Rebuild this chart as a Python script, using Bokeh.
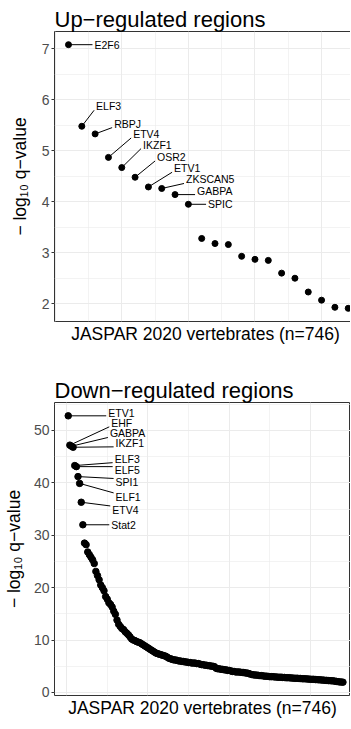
import numpy as np
from bokeh.plotting import figure
from bokeh.layouts import column
from bokeh.models import Range1d, FixedTicker
from bokeh.embed import file_html
from bokeh.resources import INLINE
from bokeh.core.properties import value

FONT = "Liberation Sans"

# ---------------- data ----------------
up_values = [7.08, 5.48, 5.33, 4.87, 4.67, 4.48, 4.29, 4.26, 4.14, 3.95,
             3.28, 3.18, 3.16, 2.93, 2.87, 2.85, 2.60, 2.50, 2.23, 2.07,
             1.93, 1.91]
up_labels = ["E2F6", "ELF3", "RBPJ", "ETV4", "IKZF1", "OSR2", "ETV1",
             "ZKSCAN5", "GABPA", "SPIC"]

down_values = [
    52.8, 47.2, 47.0, 46.8, 43.3, 43.1, 41.2, 39.9, 36.3, 32.0,
    28.5, 28.2, 26.8, 26.3, 25.8, 25.3, 24.6, 23.1, 22.3, 21.5,
    20.5, 20.0, 19.4, 18.3, 17.8, 17.1, 16.8, 16.3, 15.5, 14.9,
    13.8, 13.0, 12.6, 12.2, 12.0, 11.6, 11.3, 11.0, 10.6, 10.2,
    10.0, 9.9, 9.7, 9.6, 9.5, 9.3, 9.1, 8.9, 8.7, 8.5,
    8.3, 8.1, 7.9, 7.7, 7.5, 7.4, 7.3, 7.2, 7.1, 7.0,
    6.9, 6.7, 6.5, 6.4, 6.3, 6.2, 6.2, 6.1, 6.0, 6.0,
    5.9, 5.9, 5.8, 5.8, 5.7, 5.7, 5.6, 5.6, 5.6, 5.5,
    5.5, 5.4, 5.3, 5.3, 5.2, 5.2, 5.1, 5.1, 5.0, 5.0,
    4.9, 4.6, 4.5, 4.5, 4.4, 4.4, 4.3, 4.3, 4.2, 4.2,
    4.1, 4.0, 4.0, 3.9, 3.9, 3.9, 3.85, 3.8, 3.8, 3.7,
    3.7, 3.6, 3.5, 3.4, 3.35, 3.3, 3.3, 3.25, 3.2, 3.2,
    3.15, 3.1, 3.1, 3.05, 3.0, 3.0, 3.0, 2.95, 2.95, 2.9,
    2.9, 2.9, 2.85, 2.85, 2.8, 2.8, 2.8, 2.75, 2.75, 2.7,
    2.7, 2.7, 2.65, 2.65, 2.6, 2.6, 2.6, 2.55, 2.55, 2.5,
    2.5, 2.5, 2.45, 2.45, 2.4, 2.4, 2.35, 2.35, 2.3, 2.3,
    2.25, 2.25, 2.2, 2.2, 2.15, 2.1, 2.05, 2.0, 1.98, 1.95,
]
down_labels = ["ETV1", "EHF", "GABPA", "IKZF1", "ELF3", "ELF5", "SPI1",
               "ELF1", "ETV4", "Stat2"]

up_ticks = [2, 3, 4, 5, 6, 7]
down_ticks = [0, 10, 20, 30, 40, 50]

# ---------------- layout (repelled label offsets, px) ----------------
up_label_dx = [26, 14.3, 19, 24.7, 21.3, 22, 25.7, 24.3, 22, 19.7]
up_label_dy = [0, -20, -10.3, -23.4, -23, -20.3, -18.7, -9, -4, 0]
down_label_dx = [40, 41.4, 38.4, 42.5, 39.9, 38.3, 37.6, 36, 31, 28.4]
down_label_dy = [-3.3, -22.3, -12.7, -4.4, -6.9, 3.7, 5.9, 13.5, 7.7, 0]

XLAB = "JASPAR 2020 vertebrates (n=746)"
YLAB = "\u2212 log\u2081\u2080 q\u2212value"


def make_panel(title, values, labels, ldx, ldy, yticks, frame_w, frame_h,
               left_border, top_border, ref_full_w, xmaj_step, ylab_standoff,
               pt_size):
    n = len(values)
    ranks = np.arange(1, n + 1)
    vals = np.array(values, dtype=float)
    x0 = 1 - 0.05 * (n - 1)
    full = 1.1 * (n - 1)
    x1 = x0 + full * frame_w / ref_full_w
    span = vals.max() - vals.min()
    y0 = vals.min() - 0.05 * span
    y1 = vals.max() + 0.05 * span

    p = figure(frame_width=frame_w, frame_height=frame_h,
               x_range=Range1d(x0, x1), y_range=Range1d(y0, y1),
               output_backend="svg", toolbar_location=None,
               min_border_left=left_border, min_border_right=0,
               min_border_top=top_border, min_border_bottom=0,
               title=title, background_fill_color="white",
               border_fill_color="white")
    p.title.text_font = FONT
    p.title.text_font_size = "22px"
    p.title.text_font_style = "normal"
    p.title.text_color = "black"
    p.title.align = "left"
    p.title.vertical_align = "bottom"
    p.title.standoff = 0

    p.outline_line_color = "#333333"
    p.outline_line_width = 1

    # grids
    xmaj = list(np.arange(0, x1 + xmaj_step, xmaj_step))
    xmin = [t + xmaj_step / 2 for t in xmaj]
    p.xgrid.ticker = FixedTicker(ticks=xmaj, minor_ticks=xmin)
    step = yticks[1] - yticks[0]
    ymin = [t + step / 2 for t in yticks]
    p.ygrid.ticker = FixedTicker(ticks=yticks, minor_ticks=ymin)
    for g in (p.xgrid, p.ygrid):
        g.grid_line_color = "#EBEBEB"
        g.grid_line_width = 1
        g.minor_grid_line_color = "#EBEBEB"
        g.minor_grid_line_width = 0.6

    # x axis: title only
    p.xaxis.ticker = FixedTicker(ticks=[])
    p.xaxis.axis_line_color = None
    p.xaxis.major_tick_out = 0
    p.xaxis.major_tick_in = 0
    p.xaxis.minor_tick_out = 0
    p.xaxis.major_label_standoff = 0
    p.xaxis.major_label_text_font_size = "0px"
    p.xaxis.axis_label = XLAB
    p.xaxis.axis_label_text_font = FONT
    p.xaxis.axis_label_text_font_size = "17.5px"
    p.xaxis.axis_label_text_font_style = "normal"
    p.xaxis.axis_label_text_color = "black"
    p.xaxis.axis_label_standoff = 2

    # y axis
    p.yaxis.ticker = FixedTicker(ticks=yticks, minor_ticks=[])
    p.yaxis.axis_line_color = None
    p.yaxis.major_tick_out = 3
    p.yaxis.major_tick_in = 0
    p.yaxis.minor_tick_out = 0
    p.yaxis.major_tick_line_color = "#333333"
    p.yaxis.major_label_standoff = 2
    p.yaxis.major_label_text_font = FONT
    p.yaxis.major_label_text_font_size = "14px"
    p.yaxis.major_label_text_color = "#4D4D4D"
    p.yaxis.axis_label = YLAB
    p.yaxis.axis_label_text_font = FONT
    p.yaxis.axis_label_text_font_size = "17.5px"
    p.yaxis.axis_label_text_font_style = "normal"
    p.yaxis.axis_label_text_color = "black"
    p.yaxis.axis_label_standoff = ylab_standoff

    p.scatter(ranks, vals, size=pt_size, color="black")

    # repelled labels
    k = len(labels)
    ppx = frame_w / (x1 - x0)
    ppy = frame_h / (y1 - y0)
    lx = ranks[:k] + np.array(ldx) / ppx
    ly = vals[:k] - np.array(ldy) / ppy
    ex = lx - 2.0 / ppx
    half = 4.0 / ppy
    ey = np.clip(vals[:k], ly - half, ly + half)
    p.segment(x0=ranks[:k], y0=vals[:k], x1=ex, y1=ey,
              line_color="black", line_width=1)
    p.text(x=lx, y=ly, text=labels, text_font=value(FONT),
           text_font_size="10.5px", text_baseline="middle",
           text_align="left", text_color="black")
    return p


p1 = make_panel("Up\u2212regulated regions", up_values, up_labels,
                up_label_dx, up_label_dy, up_ticks,
                frame_w=302, frame_h=290, left_border=41, top_border=31,
                ref_full_w=307.7, xmaj_step=5, ylab_standoff=9, pt_size=6)
p2 = make_panel("Down\u2212regulated regions", down_values, down_labels,
                down_label_dx, down_label_dy, down_ticks,
                frame_w=296, frame_h=293, left_border=47, top_border=56,
                ref_full_w=302.2, xmaj_step=50, ylab_standoff=7, pt_size=6.5)

layout = column(p1, p2, spacing=0)
open("out.html", "w").write(file_html(layout, INLINE))
